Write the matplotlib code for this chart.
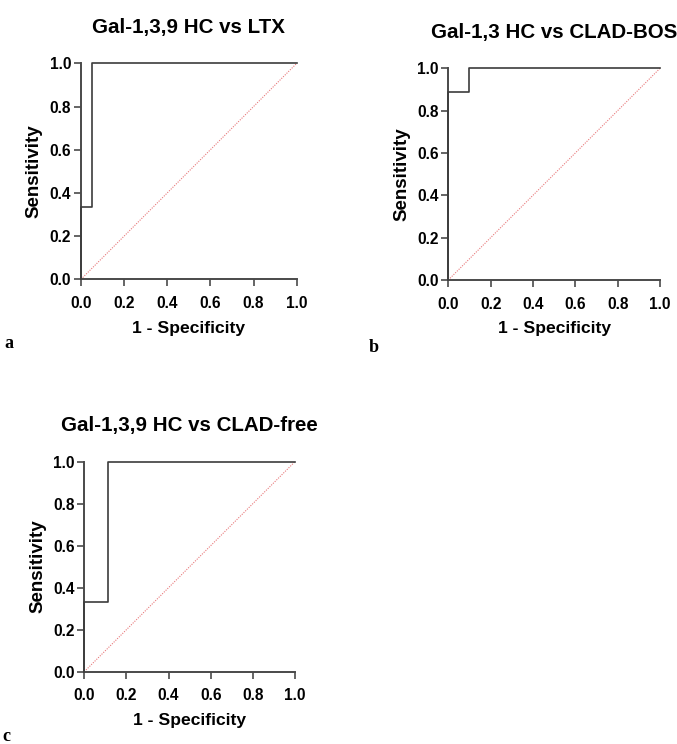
import matplotlib.pyplot as plt

plt.rcParams['font.family'] = ['Liberation Sans', 'DejaVu Sans']

# ROC curves
titles = ['Gal-1,3,9 HC vs LTX', 'Gal-1,3 HC vs CLAD-BOS', 'Gal-1,3,9 HC vs CLAD-free']
letters = ['a', 'b', 'c']
fpr_a = [0, 0, 0.053, 0.053, 1]
tpr_a = [0, 0.333, 0.333, 1, 1]
fpr_b = [0, 0, 0.1, 0.1, 1]
tpr_b = [0, 0.889, 0.889, 1, 1]
fpr_c = [0, 0, 0.111, 0.111, 1]
tpr_c = [0, 0.333, 0.333, 1, 1]
ticks = [0.0, 0.2, 0.4, 0.6, 0.8, 1.0]

curves = [(fpr_a, tpr_a), (fpr_b, tpr_b), (fpr_c, tpr_c)]
boxes = [
    [0.1196, 0.6246, 0.3187, 0.2903],
    [0.6622, 0.6237, 0.3127, 0.2845],
    [0.1245, 0.0972, 0.3112, 0.2823],
]
letter_pos = [(0.006, 0.532), (0.545, 0.527), (0.004, 0.004)]

fig = plt.figure(figsize=(6.77, 7.44), dpi=100)

for (fpr, tpr), box, title, letter, lp in zip(curves, boxes, titles, letters, letter_pos):
    ax = fig.add_axes(box)
    ax.plot([0, 1], [0, 1], color='#e8787a', lw=0.8, ls=(0, (1, 1.2)), clip_on=False)
    ax.plot(fpr, tpr, color='#3c3c3c', lw=1.2, clip_on=False, zorder=3)
    ax.set_xlim(0, 1)
    ax.set_ylim(0, 1)
    ax.set_xticks(ticks)
    ax.set_yticks(ticks)
    ax.set_xticklabels([f'{t:.1f}' for t in ticks], fontweight='bold', fontsize=11.2)
    ax.set_yticklabels([f'{t:.1f}' for t in ticks], fontweight='bold', fontsize=11.2)
    for s in ['top', 'right']:
        ax.spines[s].set_visible(False)
    for s in ['left', 'bottom']:
        ax.spines[s].set_color('#4a4a4a')
        ax.spines[s].set_linewidth(1.4)
    ax.tick_params(length=5, width=1.2, color='#4a4a4a')
    ax.tick_params(axis='x', pad=7)
    ax.tick_params(axis='y', pad=2)
    ax.set_xlabel('1 - Specificity', fontweight='bold', fontsize=12.6, labelpad=7)
    ax.set_ylabel('Sensitivity', fontweight='bold', fontsize=13.5, labelpad=5)
    ax.set_title(title, fontweight='bold', fontsize=14.8, pad=22)
    fig.text(lp[0], lp[1], letter, family='Liberation Serif', fontweight='bold', fontsize=13)

fig.savefig('out.png', dpi=100)
